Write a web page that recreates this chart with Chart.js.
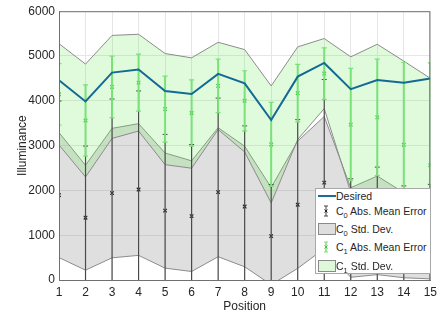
<!DOCTYPE html>
<html>
<head>
<meta charset="utf-8">
<script src="https://cdn.jsdelivr.net/npm/chart.js@4.4.0/dist/chart.umd.min.js"></script>
<style>
  html, body { margin: 0; padding: 0; background: #fff; }
  #wrap { position: relative; width: 442px; height: 320px; }
  #legend { position: absolute; left: 315px; top: 188px; width: 116px; height: 86px;
            border: 1px solid #a8a8a8; background: #fff; box-sizing: border-box;
            font: 10.5px 'Liberation Sans', Arial, sans-serif; color: #262626; }
  .row { position: absolute; left: 0; height: 14px; line-height: 14px; white-space: nowrap; }
  .row svg { position: absolute; left: 1px; top: 0; }
  .row .t { position: absolute; left: 20px; top: 0; }
  sub { font-size: 7.5px; vertical-align: -3px; line-height: 0; }
</style>
</head>
<body>
<div id="wrap">
  <canvas id="chart" width="442" height="320"></canvas>
  <div id="legend">
    <div class="row" style="top:0px">
      <svg width="20" height="14"><line x1="1" y1="7" x2="19" y2="7" stroke="#1a6e9a" stroke-width="2"/></svg>
      <span class="t">Desired</span>
    </div>
    <div class="row" style="top:15px">
      <svg width="20" height="14"><line x1="9" y1="2" x2="9" y2="12" stroke="#444" stroke-width="1"/>
        <line x1="7" y1="2" x2="11" y2="2" stroke="#444"/><line x1="7" y1="12" x2="11" y2="12" stroke="#444"/>
        <path d="M7.5 5.5 L10.5 8.5 M10.5 5.5 L7.5 8.5" stroke="#222"/></svg>
      <span class="t">C<sub>0</sub> Abs. Mean Error</span>
    </div>
    <div class="row" style="top:33px">
      <svg width="20" height="14"><rect x="1.5" y="1.5" width="17" height="11" fill="#dedede" stroke="#8a8a8a"/></svg>
      <span class="t">C<sub>0</sub> Std. Dev.</span>
    </div>
    <div class="row" style="top:51px">
      <svg width="20" height="14"><line x1="9" y1="2" x2="9" y2="12" stroke="rgb(120,225,120)" stroke-width="1.5"/>
        <line x1="7" y1="2" x2="11" y2="2" stroke="rgb(120,225,120)"/><line x1="7" y1="12" x2="11" y2="12" stroke="rgb(120,225,120)"/>
        <path d="M7.5 5.5 L10.5 8.5 M10.5 5.5 L7.5 8.5" stroke="rgb(60,200,60)"/></svg>
      <span class="t">C<sub>1</sub> Abs. Mean Error</span>
    </div>
    <div class="row" style="top:70px">
      <svg width="20" height="14"><rect x="1.5" y="1.5" width="17" height="11" fill="#e0f8da" stroke="#8a8a8a"/></svg>
      <span class="t">C<sub>1</sub> Std. Dev.</span>
    </div>
  </div>
</div>
<script>
// measured positions 1..15
var positions = [1, 2, 3, 4, 5, 6, 7, 8, 9, 10, 11, 12, 13, 14, 15];
var desired = [4460, 3985, 4630, 4700, 4220, 4150, 4600, 4390, 3570, 4540, 4845, 4260, 4465, 4405, 4500];

// C0: abs mean error, std dev (band), error bar half height
var c0Mean = [1895, 1390, 1940, 2020, 1550, 1425, 1960, 1640, 980, 1680, 2175, 1060, 1220, 1000, 1035];
var c0Std  = [1395, 1170, 1445, 1470, 1285, 1235, 1440, 1345, 1085, 1420, 1475, 1000, 1100, 950, 1010];
var c0Err  = [2100, 1600, 2100, 2200, 1700, 1600, 2100, 1800, 1150, 1900, 2300, 1200, 1300, 1100, 1100];

// C1: abs mean error, std dev (band), error bar half height
var c1Mean = [4145, 3560, 4310, 4405, 3815, 3727, 4332, 4000, 3026, 4170, 4608, 3469, 3631, 3018, 2561];
var c1Std  = [1130, 1260, 1150, 1080, 1240, 1232, 974, 1143, 1306, 1033, 782, 1512, 1631, 1868, 1941];
var c1Err  = [687, 797, 686, 635, 738, 738, 598, 671, 937, 641, 575, 1254, 1299, 1837, 2287];

var yTicks = [0, 1000, 2000, 3000, 4000, 5000, 6000];

function pts(vals) {
    return positions.map(function (p, i) { return {x: p, y: vals[i]}; });
}
function shifted(mean, dev, sign) {
    return positions.map(function (p, i) { return {x: p, y: mean[i] + sign * dev[i]}; });
}
function bars(mean, err) {
    var d = [];
    for (var i = 0; i < positions.length; i += 1) {
        d.push({x: positions[i], y: mean[i] - err[i]});
        d.push({x: positions[i], y: mean[i] + err[i]});
        d.push({x: positions[i], y: null});
    }
    return d;
}
function caps(mean, err) {
    return shifted(mean, err, -1).concat(shifted(mean, err, 1));
}

var green = 'rgb(120,225,120)';
var edge = '#8c8c8c';

var boxPlugin = {
    id: 'box',
    afterDraw: function (chart) {
        var a = chart.chartArea, c = chart.ctx;
        c.save();
        c.strokeStyle = '#707070';
        c.lineWidth = 1;
        c.strokeRect(a.left + 0.5, a.top + 0.5, a.right - a.left - 1, a.bottom - a.top);
        c.restore();
    }
};

Chart.defaults.font.family = "'Liberation Sans', Arial, sans-serif";
Chart.defaults.color = '#262626';

new Chart(document.getElementById('chart'), {
    type: 'scatter',
    data: {
        datasets: [
            {data: pts(desired), showLine: true, borderColor: '#136a94', borderWidth: 2, pointRadius: 0, order: 0},
            {data: bars(c1Mean, c1Err), showLine: true, spanGaps: false, borderColor: green, borderWidth: 2, pointRadius: 0, order: 1, clip: 0},
            {data: caps(c1Mean, c1Err), pointStyle: 'line', pointRadius: 2.5, borderColor: green, borderWidth: 1.2, order: 1, clip: 0},
            {data: pts(c1Mean), pointStyle: 'crossRot', pointRadius: 2.5, borderColor: 'rgb(60,200,60)', borderWidth: 1.2, order: 1},
            {data: bars(c0Mean, c0Err), showLine: true, spanGaps: false, borderColor: '#4a4a4a', borderWidth: 1.2, pointRadius: 0, order: 2, clip: 0},
            {data: caps(c0Mean, c0Err), pointStyle: 'line', pointRadius: 2.5, borderColor: '#4a4a4a', borderWidth: 1, order: 2, clip: 0},
            {data: pts(c0Mean), pointStyle: 'crossRot', pointRadius: 2.5, borderColor: '#222', borderWidth: 1.1, order: 2},
            {data: shifted(c1Mean, c1Std, -1), showLine: true, borderColor: edge, borderWidth: 1, pointRadius: 0, order: 3, clip: 0},
            {data: shifted(c1Mean, c1Std, 1), showLine: true, borderColor: edge, borderWidth: 1, pointRadius: 0, order: 3, clip: 0,
             fill: '-1', backgroundColor: 'rgba(100,230,80,0.2)'},
            {data: shifted(c0Mean, c0Std, -1), showLine: true, borderColor: edge, borderWidth: 1, pointRadius: 0, order: 4, clip: 0},
            {data: shifted(c0Mean, c0Std, 1), showLine: true, borderColor: edge, borderWidth: 1, pointRadius: 0, order: 4, clip: 0,
             fill: '-1', backgroundColor: 'rgba(128,128,128,0.25)'}
        ]
    },
    options: {
        responsive: false,
        animation: false,
        layout: {padding: {top: 9, right: 10, left: 0, bottom: 0}},
        plugins: {legend: {display: false}, tooltip: {enabled: false}},
        scales: {
            x: {
                type: 'linear', min: 1, max: 15,
                afterFit: function (s) { s.height = 40; },
                grid: {color: '#e6e6e6', drawTicks: false},
                border: {color: '#707070'},
                ticks: {stepSize: 1, padding: 5, font: {size: 12}},
                title: {display: true, text: 'Position', font: {size: 12}, padding: {top: 0, bottom: 6}}
            },
            y: {
                min: 0, max: 6000,
                afterFit: function (s) { s.width = 59; },
                afterBuildTicks: function (s) { s.ticks = yTicks.map(function (v) { return {value: v}; }); },
                grid: {color: '#e6e6e6', drawTicks: false},
                border: {color: '#707070'},
                ticks: {padding: 4, font: {size: 12}, callback: function (v) { return String(v); }},
                title: {display: true, text: 'Illuminance', font: {size: 12}, padding: {top: 15, bottom: 0}}
            }
        }
    },
    plugins: [boxPlugin]
});
</script>
</body>
</html>
